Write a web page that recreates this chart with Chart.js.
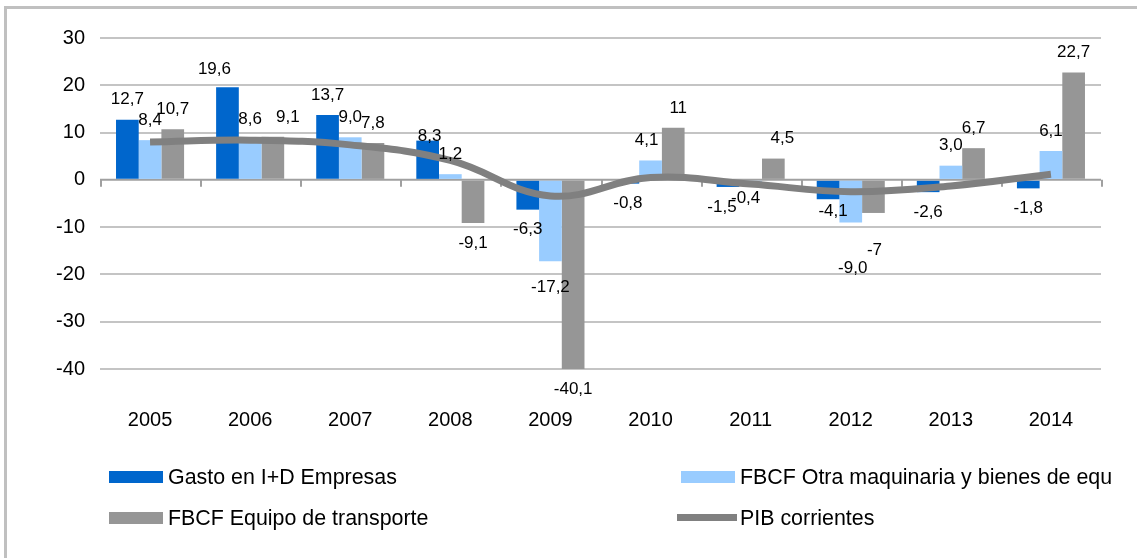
<!DOCTYPE html>
<html>
<head>
<meta charset="utf-8">
<script src="https://cdn.jsdelivr.net/npm/chart.js@4"></script>
<style>
  body { margin: 0; background: #fff; font-family: "Liberation Sans", Arial, sans-serif; }
  #wrap { position: relative; width: 1137px; height: 558px; overflow: hidden; }
  #frame { position: absolute; left: 4px; top: 6px; width: 1200px; height: 600px;
           border-left: 3px solid #c0c0c0; border-top: 3px solid #c0c0c0; }
  canvas { position: absolute; left: 0; top: 0; }
  .lg-text { position: absolute; font-size: 21.4px; line-height: 26px; height: 26px;
             color: #000; white-space: nowrap; overflow: hidden; }
  .lg-sw { position: absolute; }
</style>
</head>
<body>
<div id="wrap">
  <div id="frame"></div>
  <canvas id="chart" width="1137" height="558"></canvas>
  <div id="legend"></div>
</div>
<script>
const years = ["2005", "2006", "2007", "2008", "2009", "2010", "2011", "2012", "2013", "2014"];
const gastoID = [12.7, 19.6, 13.7, 8.3, -6.3, -0.8, -1.5, -4.1, -2.6, -1.8];
const fbcfMaquinaria = [8.4, 8.6, 9.0, 1.2, -17.2, 4.1, -0.4, -9.0, 3.0, 6.1];
const fbcfTransporte = [10.7, 9.1, 7.8, -9.1, -40.1, 11, 4.5, -7, 6.7, 22.7];
const pibCorrientes = [8.0, 8.4, 7.4, 4.1, -3.4, 0.5, -0.9, -2.5, -1.3, 1.2];
const yMin = -40;
const yMax = 30;
const yStep = 10;

// label tweaks, as the original labels were moved by hand in a few places
const labelNudge = {
  "0-1": [-13, 2], "2-1": [15, 0], "0-3": [2, 16], "1-4": [0, 6],
  "1-5": [-4, 0], "2-5": [5, 0], "0-6": [-6, 0], "1-6": [-5, -3],
  "2-6": [9, 0], "0-7": [5, -8], "1-7": [2, 26], "2-7": [1, 17],
};

const FONT = '"Liberation Sans", Arial, sans-serif';

const formatLabel = (value, mode) => {
  const txt = mode === "fixed" ? value.toFixed(1) : String(value);
  return txt.replace(".", ",");
};

const zeroAxis = {
  id: "zeroAxis",
  beforeDatasetsDraw(chart) {
    const { ctx, chartArea, scales } = chart;
    const y0 = scales.y.getPixelForValue(0);
    const n = chart.data.labels.length;
    const step = (chartArea.right - chartArea.left) / n;
    ctx.save();
    ctx.strokeStyle = "#a0a0a0";
    ctx.lineWidth = 2;
    ctx.beginPath();
    ctx.moveTo(chartArea.left, y0);
    ctx.lineTo(chartArea.right, y0);
    for (let i = 0; i <= n; i++) {
      const x = Math.round(chartArea.left + i * step) + 1;
      ctx.moveTo(x, y0);
      ctx.lineTo(x, y0 + 7);
    }
    ctx.stroke();
    ctx.restore();
  },
};

const barLabels = {
  id: "barLabels",
  afterDatasetsDraw(chart) {
    const { ctx } = chart;
    ctx.save();
    ctx.font = "17px " + FONT;
    ctx.fillStyle = "#000";
    ctx.textAlign = "center";
    ctx.textBaseline = "middle";
    chart.data.datasets.forEach((ds, di) => {
      if (ds.type === "line") return;
      const meta = chart.getDatasetMeta(di);
      meta.data.forEach((bar, i) => {
        const v = ds.data[i];
        const nudge = labelNudge[di + "-" + i] || [0, 0];
        const y = bar.y + (v >= 0 ? -20 : 20) + nudge[1];
        ctx.fillText(formatLabel(v, ds.labelFormat), bar.x + nudge[0], y);
      });
    });
    ctx.restore();
  },
};

const chart = new Chart(document.getElementById("chart"), {
  type: "bar",
  data: {
    labels: years,
    datasets: [
      {
        label: "Gasto en I+D Empresas",
        data: gastoID,
        backgroundColor: "#0066cc",
        labelFormat: "fixed",
        order: 1,
      },
      {
        label: "FBCF Otra maquinaria y bienes de equipo",
        data: fbcfMaquinaria,
        backgroundColor: "#99ccff",
        labelFormat: "fixed",
        order: 1,
      },
      {
        label: "FBCF Equipo de transporte",
        data: fbcfTransporte,
        backgroundColor: "#969696",
        labelFormat: "general",
        order: 1,
      },
      {
        type: "line",
        label: "PIB corrientes",
        data: pibCorrientes,
        borderColor: "#808080",
        borderWidth: 7,
        pointRadius: 0,
        tension: 0.4,
        fill: false,
        order: 0,
      },
    ],
  },
  options: {
    responsive: false,
    animation: false,
    devicePixelRatio: 1,
    categoryPercentage: 0.68,
    barPercentage: 1,
    layout: { padding: { left: 0, right: 36, top: 38, bottom: 109 } },
    plugins: {
      legend: { display: false },
      tooltip: { enabled: false },
    },
    scales: {
      x: {
        grid: { display: false },
        border: { display: false },
        ticks: { color: "#000", font: { family: FONT, size: 20 }, padding: 31 },
        afterFit: (scale) => { scale.height = 80; },
      },
      y: {
        min: yMin,
        max: yMax,
        border: { display: false },
        grid: {
          drawTicks: false,
          lineWidth: 2,
          color: (c) => (c.tick && c.tick.value === 0 ? "rgba(0,0,0,0)" : "#c4c4c4"),
        },
        ticks: {
          stepSize: yStep,
          color: "#000",
          padding: 15,
          font: { family: FONT, size: 20 },
        },
        afterFit: (scale) => { scale.width = 100; },
      },
    },
  },
  plugins: [zeroAxis, barLabels],
});

const buildLegend = (chart) => {
  const box = document.getElementById("legend");
  const cols = [109, 681];
  const rows = [477, 518];
  box.innerHTML = chart.data.datasets
    .map((ds, i) => {
      const x = cols[i % 2];
      const y = rows[Math.floor(i / 2)];
      const textLeft = x + 59;
      const sw = ds.type === "line"
        ? `<div class="lg-sw" style="left:${x - 4}px;top:${y - 4}px;width:60px;height:7px;background:${ds.borderColor}"></div>`
        : `<div class="lg-sw" style="left:${x}px;top:${y - 6}px;width:54px;height:12px;background:${ds.backgroundColor}"></div>`;
      return `${sw}<div class="lg-text" style="left:${textLeft}px;top:${y - 13}px;max-width:${1113 - textLeft}px">${ds.label}</div>`;
    })
    .join("");
};

buildLegend(chart);
</script>
</body>
</html>
